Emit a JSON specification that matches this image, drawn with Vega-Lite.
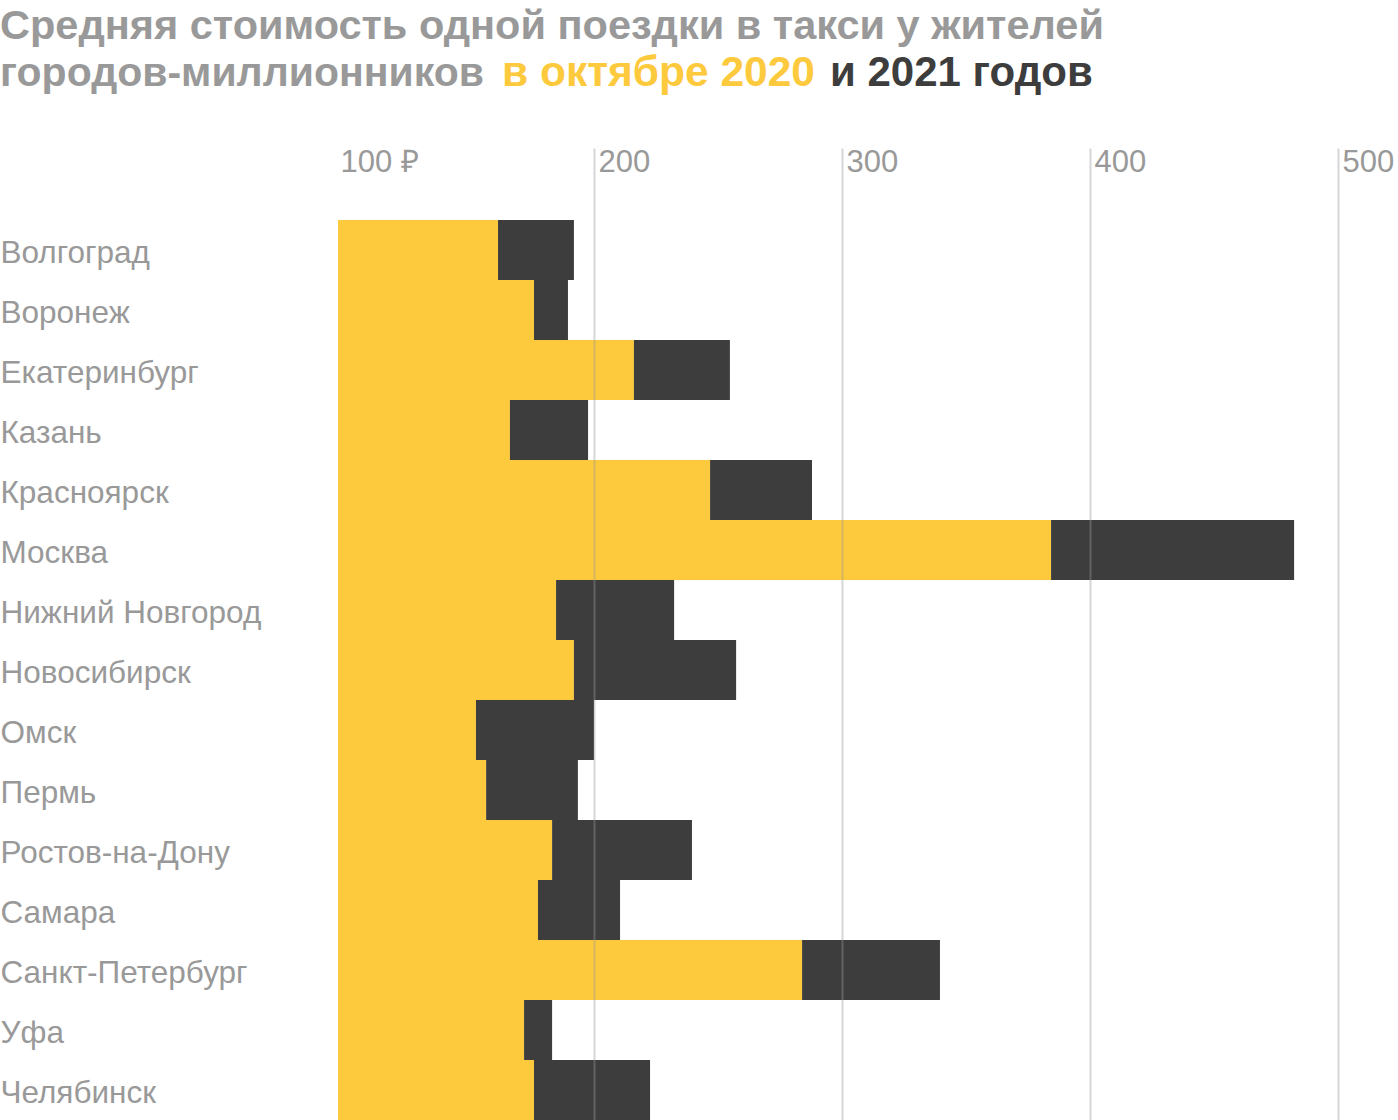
{
  "$schema": "https://vega.github.io/schema/vega-lite/v6.json",
  "padding": {"top": 6, "left": 0, "right": 0, "bottom": 0},
  "background": "white",
  "title": {"text": "Средняя стоимость одной поездки в такси у жителей", "anchor": "start", "font": "Liberation Sans", "fontSize": 41.5, "fontWeight": "bold", "color": "#999999", "offset": 4, "dx": 0},
  "spacing": 36,
  "config": {
    "view": {"stroke": null},
    "title": {"anchor": "start", "font": "Liberation Sans", "fontSize": 41, "fontWeight": "bold", "offset": 0}
  },
  "vconcat": [
    {
      "spacing": 0,
      "bounds": "flush",
      "hconcat": [
        {"width": 502, "height": 1, "data": {"values": [{}]}, "mark": {"type": "text", "text": ""}, "title": {"text": "городов-миллионников", "color": "#999999", "dx": -338}},
        {"width": 328, "height": 1, "data": {"values": [{}]}, "mark": {"type": "text", "text": ""}, "title": {"text": "в октябре 2020", "color": "#FDC93D", "fontSize": 42.5, "dx": -338}},
        {"width": 1, "height": 1, "data": {"values": [{}]}, "mark": {"type": "text", "text": ""}, "title": {"text": "и 2021 годов", "color": "#3D3D3D", "fontSize": 42, "dx": -338}}
      ]
    },
    {
      "width": 1000,
      "height": 972,
      "data": {"values": [
        {"city": "Волгоград", "v2020": 161.3, "v2021": 191.9},
        {"city": "Воронеж", "v2020": 175.8, "v2021": 189.5},
        {"city": "Екатеринбург", "v2020": 216.1, "v2021": 254.8},
        {"city": "Казань", "v2020": 166.1, "v2021": 197.6},
        {"city": "Красноярск", "v2020": 246.8, "v2021": 287.9},
        {"city": "Москва", "v2020": 384.3, "v2021": 482.3},
        {"city": "Нижний Новгород", "v2020": 184.7, "v2021": 232.3},
        {"city": "Новосибирск", "v2020": 191.9, "v2021": 257.3},
        {"city": "Омск", "v2020": 152.4, "v2021": 200.0},
        {"city": "Пермь", "v2020": 156.5, "v2021": 193.5},
        {"city": "Ростов-на-Дону", "v2020": 183.1, "v2021": 239.5},
        {"city": "Самара", "v2020": 177.4, "v2021": 210.5},
        {"city": "Санкт-Петербург", "v2020": 283.9, "v2021": 339.5},
        {"city": "Уфа", "v2020": 171.8, "v2021": 183.1},
        {"city": "Челябинск", "v2020": 175.8, "v2021": 222.6}
      ]},
      "encoding": {
        "y": {
          "field": "city", "type": "nominal", "sort": null,
          "scale": {"paddingInner": 0, "paddingOuter": 0.6, "align": 1},
          "axis": {"title": null, "domain": false, "ticks": false, "labelAlign": "left", "labelPadding": 338, "labelLimit": 0, "labelFont": "Liberation Sans", "labelFontSize": 31.5, "labelColor": "#999999", "labelOffset": 4}
        }
      },
      "layer": [
        {
          "mark": {"type": "bar", "color": "#FDC93D", "clip": true},
          "encoding": {
            "x": {
              "field": "v2020", "type": "quantitative",
              "scale": {"domain": [96.77, 500], "zero": false, "nice": false},
              "axis": {
                "orient": "top", "title": null, "domain": false, "ticks": false, "zindex": 1,
                "values": [100, 200, 300, 400, 500],
                "labelExpr": "datum.value == 100 ? '100 ₽' : datum.label",
                "labelAlign": "left", "labelBaseline": "alphabetic", "labelPadding": -23,
                "labelFont": "Liberation Sans", "labelFontSize": 31, "labelColor": "#999999",
                "labelOffset": {"condition": {"test": "datum.value == 100", "value": -6}, "value": 4},
                "gridColor": "#999999", "gridWidth": 2,
                "gridOpacity": {"condition": {"test": "datum.value == 100", "value": 0}, "value": 0.4}
              }
            }
          }
        },
        {
          "mark": {"type": "bar", "color": "#3D3D3D", "clip": true},
          "encoding": {
            "x": {"field": "v2020", "type": "quantitative"},
            "x2": {"field": "v2021"}
          }
        }
      ]
    }
  ]
}
